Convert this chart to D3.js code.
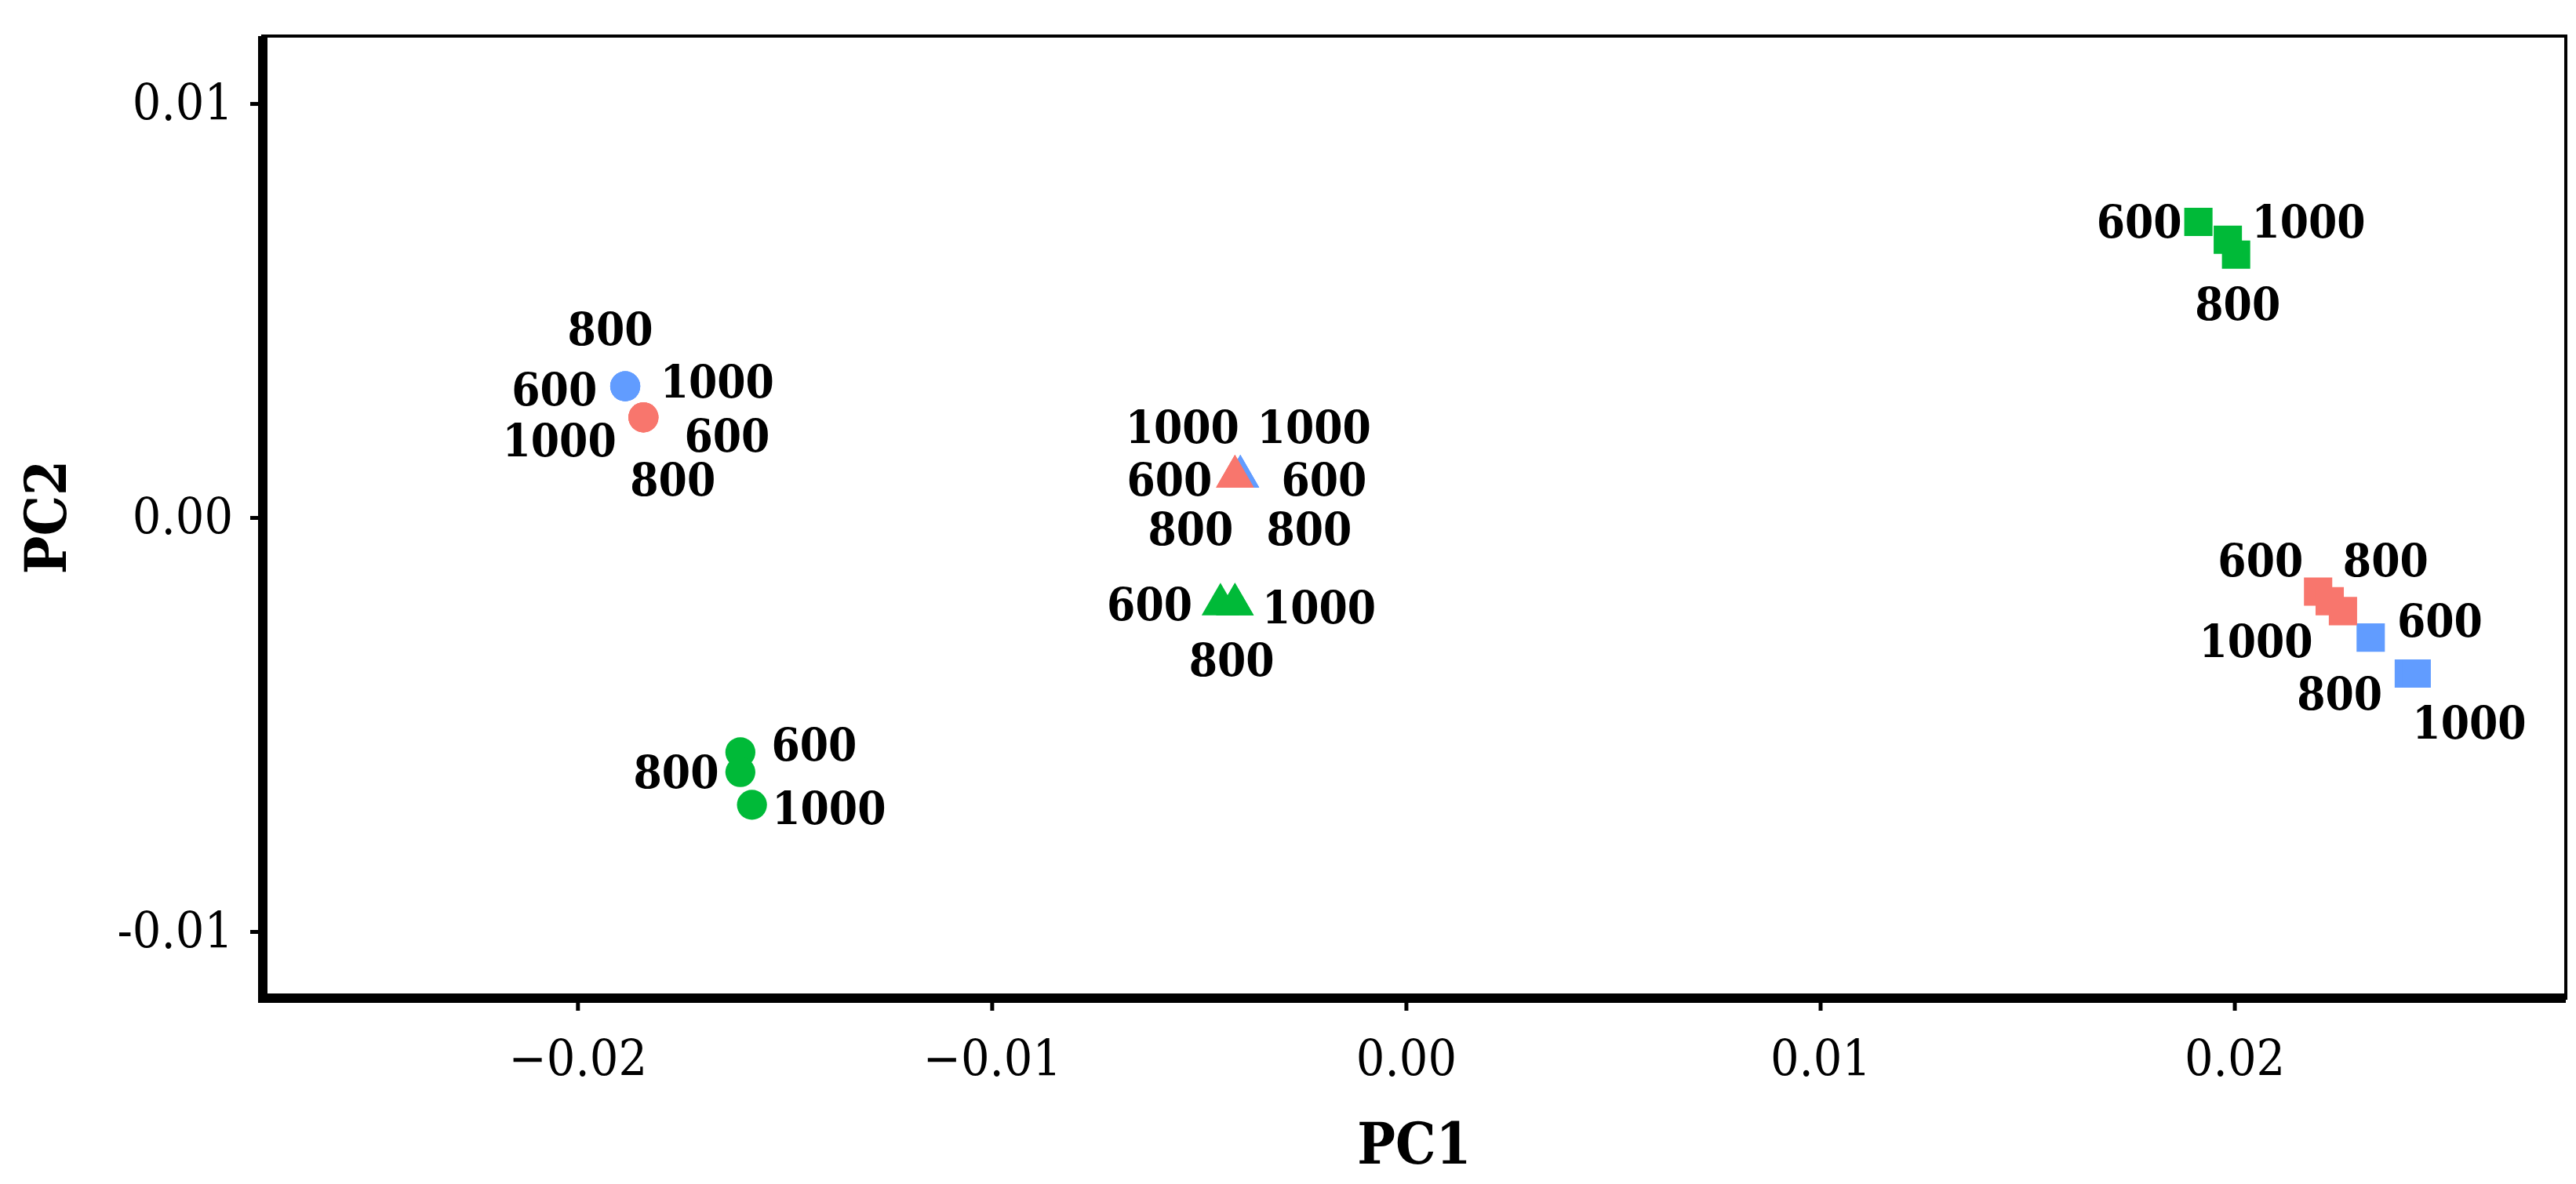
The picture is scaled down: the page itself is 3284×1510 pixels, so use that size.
<!DOCTYPE html>
<html><head><meta charset="utf-8">
<script src="https://cdn.jsdelivr.net/npm/d3@7"></script>
<style>body{margin:0;background:#fff}svg{display:block}</style>
</head><body>
<script>
// ---- data ----
const groups = ["blue","red","green"];
const groupColors = ["#619CFF","#F8766D","#00BA38"];
const temps = ["600","800","1000"];
const pointGroup = ["blue","blue","blue","blue","blue","blue","blue","blue","blue",
                    "red","red","red","red","red","red","red","red","red",
                    "green","green","green","green","green","green","green","green","green"];
const pointShape = ["circle","circle","circle","triangle","triangle","triangle","square","square","square",
                    "circle","circle","circle","triangle","triangle","triangle","square","square","square",
                    "circle","circle","circle","triangle","triangle","triangle","square","square","square"];
const pointTemp = ["600","800","1000","600","800","1000","600","800","1000",
                   "600","800","1000","600","800","1000","600","800","1000",
                   "600","800","1000","600","800","1000","600","800","1000"];
const pc1 = [-0.01885,-0.01885,-0.01885,-0.00400,-0.00400,-0.00400,0.02329,0.02421,0.02440,
             -0.01841,-0.01841,-0.01841,-0.00413,-0.00413,-0.00413,0.02202,0.02230,0.02262,
             -0.01607,-0.01607,-0.01579,-0.00448,-0.00413,-0.00413,0.01913,0.02004,0.01984];
const pc2 = [0.00317,0.00317,0.00317,0.00099,0.00099,0.00099,-0.00290,-0.00377,-0.00377,
             0.00242,0.00242,0.00242,0.00099,0.00099,0.00099,-0.00179,-0.00202,-0.00226,
             -0.00567,-0.00615,-0.00694,-0.00210,-0.00210,-0.00210,0.00714,0.00635,0.00671];
const labPc1 = [-0.02056,-0.01921,-0.01663,-0.00198,-0.00234,-0.00222,0.02496,0.02254,0.02567,
                -0.01639,-0.01770,-0.02044,-0.00571,-0.00520,-0.00540,0.02063,0.02365,0.02052,
                -0.01429,-0.01762,-0.01393,-0.00619,-0.00421,-0.00210,0.01770,0.02008,0.02179];
const labPc2 = [0.00310,0.00456,0.00329,0.00091,-0.00028,0.00218,-0.00250,-0.00425,-0.00496,
                0.00198,0.00091,0.00187,0.00091,-0.00028,0.00218,-0.00103,-0.00103,-0.00298,
                -0.00548,-0.00615,-0.00702,-0.00210,-0.00345,-0.00218,0.00714,0.00516,0.00714];
const xTicks = [-0.02,-0.01,0.00,0.01,0.02];
const xTickLabels = ["\u22120.02","\u22120.01","0.00","0.01","0.02"];
const yTicks = [-0.01,0.00,0.01];
const yTickLabels = ["-0.01","0.00","0.01"];

// ---- chart ----
const W=3284,H=1510;
const m={left:335,right:13,top:46,bottom:237};
const svg=d3.select("body").append("svg").attr("width",W).attr("height",H);
const x=d3.scaleLinear().domain([-0.0276,0.0280]).range([m.left,W-m.right]);
const y=d3.scaleLinear().domain([-0.01161,0.01163]).range([H-m.bottom,m.top]);
const color=d3.scaleOrdinal().domain(groups).range(groupColors);
const font="DejaVu Serif Condensed, DejaVu Serif, serif";

svg.append("rect").attr("x",m.left).attr("y",m.top).attr("width",W-m.left-m.right).attr("height",H-m.top-m.bottom)
  .attr("fill","none").attr("stroke","#000").attr("stroke-width",4);

const xa=svg.append("g").attr("transform",`translate(0,${H-m.bottom})`)
  .call(d3.axisBottom(x).tickValues(xTicks).tickFormat((d,i)=>xTickLabels[i]).tickSize(16).tickPadding(38));
const ya=svg.append("g").attr("transform",`translate(${m.left},0)`)
  .call(d3.axisLeft(y).tickValues(yTicks).tickFormat((d,i)=>yTickLabels[i]).tickSize(16).tickPadding(22));
[xa,ya].forEach(a=>{
  a.attr("font-family",null);
  a.select(".domain").attr("stroke-width",12);
  a.selectAll(".tick line").attr("stroke-width",5);
  a.selectAll("text").style("font-family",font).style("font-stretch","condensed").attr("font-size",64).attr("fill","#000");
});
xa.select(".domain").attr("d",`M${m.left-6},0H${W-m.right}`);
ya.select(".domain").attr("d",`M0,${m.top}V${H-m.bottom+6}`);

svg.append("text").attr("x",(m.left+W-m.right)/2).attr("y",1484).attr("text-anchor","middle")
  .style("font-family",font).style("font-stretch","condensed").attr("font-weight","bold").attr("font-size",72).text("PC1");
svg.append("text").attr("transform",`translate(84,${(m.top+H-m.bottom)/2}) rotate(-90)`).attr("text-anchor","middle")
  .style("font-family",font).style("font-stretch","condensed").attr("font-weight","bold").attr("font-size",72).text("PC2");

const sym={circle:d3.symbolCircle,triangle:d3.symbolTriangle,square:d3.symbolSquare};
const sizes={circle:1150,triangle:1000,square:1300};
const idx=d3.range(pc1.length);
svg.append("g").selectAll("path").data(idx).join("path")
  .attr("transform",i=>`translate(${x(pc1[i])},${y(pc2[i])})`)
  .attr("d",i=>d3.symbol(sym[pointShape[i]],sizes[pointShape[i]])())
  .attr("fill",i=>color(pointGroup[i]));
svg.append("g").selectAll("text").data(idx).join("text")
  .attr("x",i=>x(labPc1[i])).attr("y",i=>y(labPc2[i])).attr("dy","0.35em")
  .attr("text-anchor","middle").style("font-family",font).style("font-stretch","condensed")
  .attr("font-weight","bold").attr("font-size",58)
  .text(i=>pointTemp[i]);
</script>
</body></html>
